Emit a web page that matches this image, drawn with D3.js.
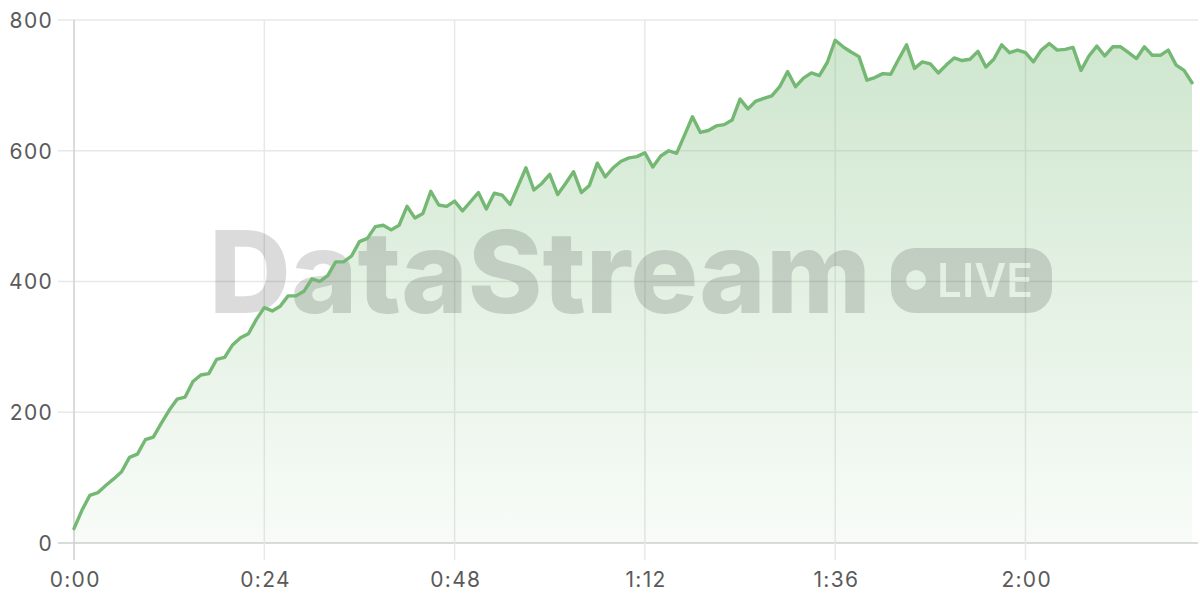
<!DOCTYPE html>
<html>
<head>
<meta charset="utf-8">
<script src="https://cdn.jsdelivr.net/npm/d3@7/dist/d3.min.js"></script>
<style>
  html, body { margin: 0; padding: 0; background: #fff; }
  svg { display: block; }
  .tick-label { font-family: Inter, "Noto Sans", sans-serif; font-size: 21px; letter-spacing: 1.3px; fill: #5a5a5a; }
</style>
</head>
<body>
<svg id="chart" width="1200" height="600"></svg>
<script>
// ---- data ----
const seconds = [
  0,1,2,3,4,5,6,7,8,9,10,11,12,13,14,15,16,17,18,19,20,21,22,23,24,25,26,27,28,29,
  30,31,32,33,34,35,36,37,38,39,40,41,42,43,44,45,46,47,48,49,50,51,52,53,54,55,56,57,58,59,
  60,61,62,63,64,65,66,67,68,69,70,71,72,73,74,75,76,77,78,79,80,81,82,83,84,85,86,87,88,89,
  90,91,92,93,94,95,96,97,98,99,100,101,102,103,104,105,106,107,108,109,110,111,112,113,114,115,116,117,118,119,
  120,121,122,123,124,125,126,127,128,129,130,131,132,133,134,135,136,137,138,139,140,141
];
const values = [
  22,50,73,77,88,98,109,131,136,158,162,183,203,220,223,247,257,259,281,284,303,314,320,342,360,355,362,378,378,385,
  404,400,409,430,430,439,461,466,484,486,479,486,515,497,504,538,517,515,523,508,522,536,511,535,532,518,546,574,540,550,
  564,533,550,568,536,547,581,560,574,584,589,591,597,575,592,600,596,624,652,628,631,638,640,647,679,664,676,680,684,698,
  721,698,711,719,715,735,769,759,751,744,708,712,718,717,740,762,726,736,733,719,731,742,738,740,752,728,740,762,750,754,
  750,736,754,764,754,755,758,723,745,760,745,759,759,750,741,759,746,746,754,731,723,704
];
const xTicks = [0, 24, 48, 72, 96, 120];
const xTickLabels = ["0:00", "0:24", "0:48", "1:12", "1:36", "2:00"];
const yTicks = [0, 200, 400, 600, 800];
const watermarkText = "DataStream";
const badgeText = "LIVE";

// ---- layout ----
const W = 1200, H = 600;
const plotL = 74, plotR = 1192, plotT = 20, plotB = 543;
const svg = d3.select("#chart");

const x = d3.scaleLinear().domain([0, 141]).range([plotL, plotR]);
const y = d3.scaleLinear().domain([0, 800]).range([plotB, plotT]);

const data = seconds.map((s, i) => ({ t: s, v: values[i] }));

const defs = svg.append("defs");
const grad = defs.append("linearGradient")
  .attr("id", "areaGrad")
  .attr("gradientUnits", "userSpaceOnUse")
  .attr("x1", 0).attr("x2", 0)
  .attr("y1", y(800)).attr("y2", y(0));
grad.append("stop").attr("offset", "0%").attr("stop-color", "#74b874").attr("stop-opacity", 0.36);
grad.append("stop").attr("offset", "100%").attr("stop-color", "#74b874").attr("stop-opacity", 0.05);

// grid
const grid = svg.append("g");
grid.selectAll("line.h").data(yTicks).join("line")
  .attr("x1", 58).attr("x2", 1198)
  .attr("y1", d => y(d)).attr("y2", d => y(d))
  .attr("stroke", d => d === 0 ? "#cfcfcf" : "#e8e8e8").attr("stroke-width", 1.5);
grid.selectAll("line.v").data(xTicks).join("line")
  .attr("x1", d => x(d)).attr("x2", d => x(d))
  .attr("y1", plotT).attr("y2", 560)
  .attr("stroke", d => d === 0 ? "#cfcfcf" : "#e8e8e8").attr("stroke-width", 1.5);

// area
const area = d3.area().x(d => x(d.t)).y0(y(0)).y1(d => y(d.v));
svg.append("path").datum(data).attr("d", area).attr("fill", "url(#areaGrad)");

// watermark
const wm = svg.append("g").attr("fill", "#000").attr("fill-opacity", 0.14);
wm.append("text")
  .attr("x", 209).attr("y", 313)
  .attr("font-family", "Inter, 'Noto Sans', sans-serif")
  .attr("font-weight", 800)
  .attr("font-size", 114)
  .attr("textLength", 662)
  .attr("lengthAdjust", "spacingAndGlyphs")
  .text(watermarkText);

const mask = defs.append("mask").attr("id", "pillMask");
mask.append("rect").attr("x", 0).attr("y", 0).attr("width", W).attr("height", H).attr("fill", "#fff");
mask.append("circle").attr("cx", 916).attr("cy", 280).attr("r", 10).attr("fill", "#000");
mask.append("text")
  .attr("x", 937).attr("y", 297)
  .attr("font-family", "Inter, 'Noto Sans', sans-serif")
  .attr("font-weight", 600)
  .attr("font-size", 46)
  .attr("textLength", 96)
  .attr("lengthAdjust", "spacingAndGlyphs")
  .attr("fill", "#000")
  .text(badgeText);
wm.append("rect")
  .attr("x", 891).attr("y", 248).attr("width", 161).attr("height", 65)
  .attr("rx", 24).attr("ry", 24)
  .attr("mask", "url(#pillMask)");

// line
const line = d3.line().x(d => x(d.t)).y(d => y(d.v));
svg.append("path").datum(data).attr("d", line)
  .attr("fill", "none").attr("stroke", "#74b874").attr("stroke-width", 3.4)
  .attr("stroke-linejoin", "round").attr("stroke-linecap", "round");

// axes (labels only)
const yAxis = d3.axisLeft(y).tickValues(yTicks).tickSize(0).tickPadding(0);
const gy = svg.append("g").attr("transform", `translate(53,0)`).call(yAxis);
gy.select(".domain").remove();
gy.selectAll("text").attr("class", "tick-label").attr("dy", "0.35em").attr("fill", null);

const xAxis = d3.axisBottom(x).tickValues(xTicks).tickSize(0).tickPadding(0)
  .tickFormat((d, i) => xTickLabels[i]);
const gx = svg.append("g").attr("transform", `translate(0.7,580)`).call(xAxis);
gx.select(".domain").remove();
gx.selectAll("text").attr("class", "tick-label").attr("dy", "0.35em").attr("fill", null);
</script>
</body>
</html>
